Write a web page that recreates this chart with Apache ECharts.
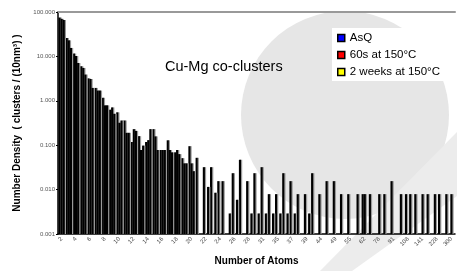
<!DOCTYPE html>
<html lang="en">
<head>
  <meta charset="UTF-8">
  <title>Cu-Mg co-clusters</title>
  <style>
    html, body { margin: 0; padding: 0; background: #fff; }
    #chart { width: 457px; height: 271px; }
  </style>
</head>
<body>
<div id="chart"></div>
<script src="https://cdn.jsdelivr.net/npm/echarts@6/dist/echarts.min.js"></script>
<script>
  // cluster sizes (number of atoms), one per category
  const atoms = [2, 3, 4, 5, 6, 7, 8, 9, 10, 11, 12, 13, 14, 15, 16, 17, 18, 19, 20, 21,
    22, 23, 24, 25, 26, 27, 28, 30, 31, 33, 35, 36, 37, 38, 39, 41, 44, 46, 49, 52,
    55, 58, 62, 70, 78, 84, 91, 99, 108, 122, 141, 180, 228, 260, 300];

  const seriesNames = ['AsQ', '60s at 150°C', '2 weeks at 150°C'];
  const legendColors = ['#0000ff', '#ff0000', '#ffff00'];

  // number density, clusters / (10nm)^3
  const asq = [75, 26, 11.6, 6.0, 3.2, 1.95, 1.17, 0.63, 0.55, 0.36,
    0.118, 0.16, 0.118, 0.23, 0.078, 0.129, 0.069, 0.051, 0.095, 0.052,
    0.032, 0.032, 0.0155, '-', 0.0234, 0.047, 0.0155, 0.0234, 0.032, 0.0079,
    0.0079, 0.0234, 0.0155, 0.0079, 0.0079, 0.0234, 0.0079, 0.0155, 0.0155, 0.0079,
    0.0079, '-', 0.0079, 0.0079, '-', 0.0079, 0.0155, '-', 0.0079, '-',
    '-', 0.0079, 0.0079, '-', '-'];
  const sixty = [70, 23, 10.2, 5.5, 3.1, 1.7, 0.79, 0.71, 0.32, 0.19,
    0.23, 0.078, 0.13, 0.158, 0.078, 0.078, 0.078, 0.039, 0.039, '-',
    '-', '-', '-', '-', '-', '-', '-', '-', '-', '-',
    '-', '-', '-', '-', '-', '-', '-', '-', '-', '-',
    '-', 0.0079, 0.0079, '-', 0.0079, '-', '-', 0.0079, '-', 0.0079,
    0.0079, '-', '-', '-', 0.0079];
  const twoWeeks = [66, 15.5, 7.1, 3.9, 1.95, 1.7, 0.79, 0.51, 0.36, 0.19,
    0.21, 0.098, 0.23, 0.078, 0.078, 0.069, 0.063, 0.039, 0.026, '-',
    0.0115, 0.0085, 0.0155, 0.0029, 0.0059, '-', 0.0029, 0.0029, 0.0029, 0.0029,
    0.0029, 0.0029, 0.0029, '-', 0.0029, '-', '-', '-', '-', '-',
    '-', '-', '-', '-', '-', '-', '-', '-', 0.0079, '-',
    '-', '-', 0.0079, 0.0079, '-'];

  const values = [asq, sixty, twoWeeks];

  // log axis from 0.001 to 100: bars are drawn as decades above 0.001
  // (an ECharts log axis starts bars at 1, so the axis is a value axis in decades)
  const yMinExp = -3;
  const yMaxExp = 2;
  const toDecades = v => (v === '-' ? '-' : Math.log10(v) - yMinExp);

  var myChart = echarts.init(document.getElementById('chart'));

  var option = {
    animation: false,
    backgroundColor: '#fff',
    textStyle: { fontFamily: 'Liberation Sans, Arial, sans-serif' },
    graphic: [
      // light grey watermark behind the plot
      { type: 'circle', z: -10, silent: true,
        shape: { cx: 345, cy: 115, r: 104 }, style: { fill: '#e6e6e6' } },
      { type: 'polygon', z: -10, silent: true,
        shape: { points: [[457, 132], [457, 196], [352, 271], [320, 271]] },
        style: { fill: '#ececec' } }
    ],
    title: {
      text: 'Cu-Mg co-clusters',
      left: 160,
      top: 54,
      textStyle: { fontSize: 14.5, fontWeight: 'normal', color: '#000' }
    },
    legend: {
      orient: 'vertical',
      left: 332,
      top: 28,
      backgroundColor: '#fff',
      padding: [4, 8, 3, 5],
      itemWidth: 7,
      itemHeight: 7,
      itemGap: 5,
      icon: 'rect',
      textStyle: { fontSize: 11.5, color: '#000', lineHeight: 12 },
      data: seriesNames.map((n, i) => ({
        name: n,
        itemStyle: { color: legendColors[i], borderColor: '#000', borderWidth: 1.5 }
      }))
    },
    grid: { left: 58, right: 2, top: 12, bottom: 29 },
    xAxis: [
      {
        type: 'category',
        data: atoms,
        name: 'Number of Atoms',
        nameLocation: 'middle',
        nameGap: 22,
        nameTextStyle: { fontSize: 10, fontWeight: 'bold', color: '#000' },
        axisLine: { lineStyle: { color: '#000', width: 1.5 } },
        axisTick: { interval: 0, length: 2, lineStyle: { color: '#000' } },
        axisLabel: { interval: 1, rotate: 45, fontSize: 6, color: '#444', margin: 4 }
      },
      {
        type: 'category',
        data: atoms,
        position: 'top',
        axisLine: { lineStyle: { color: '#999', width: 2 } },
        axisTick: { show: false },
        axisLabel: { show: false }
      }
    ],
    yAxis: {
      type: 'value',
      min: 0,
      max: yMaxExp - yMinExp,
      interval: 1,
      name: 'Number Density  ( clusters / (10nm³) )',
      nameLocation: 'middle',
      nameGap: 27,
      nameTextStyle: { fontSize: 10, fontWeight: 'bold', color: '#000' },
      axisLine: { show: true, lineStyle: { color: '#000', width: 1.5 } },
      axisTick: { show: true, length: 2, lineStyle: { color: '#000' } },
      splitLine: { show: false },
      axisLabel: {
        fontSize: 6,
        color: '#555',
        margin: 3,
        formatter: v => Math.pow(10, v + yMinExp).toFixed(3)
      }
    },
    series: seriesNames.map((n, i) => ({
      name: n,
      type: 'bar',
      data: values[i].map(toDecades),
      barGap: '0%',
      barCategoryGap: '12%',
      itemStyle: {
        color: '#000',
        shadowColor: '#9a9a9a',
        shadowOffsetX: 1.2,
        shadowBlur: 0
      }
    }))
  };

  myChart.setOption(option);
</script>
</body>
</html>
